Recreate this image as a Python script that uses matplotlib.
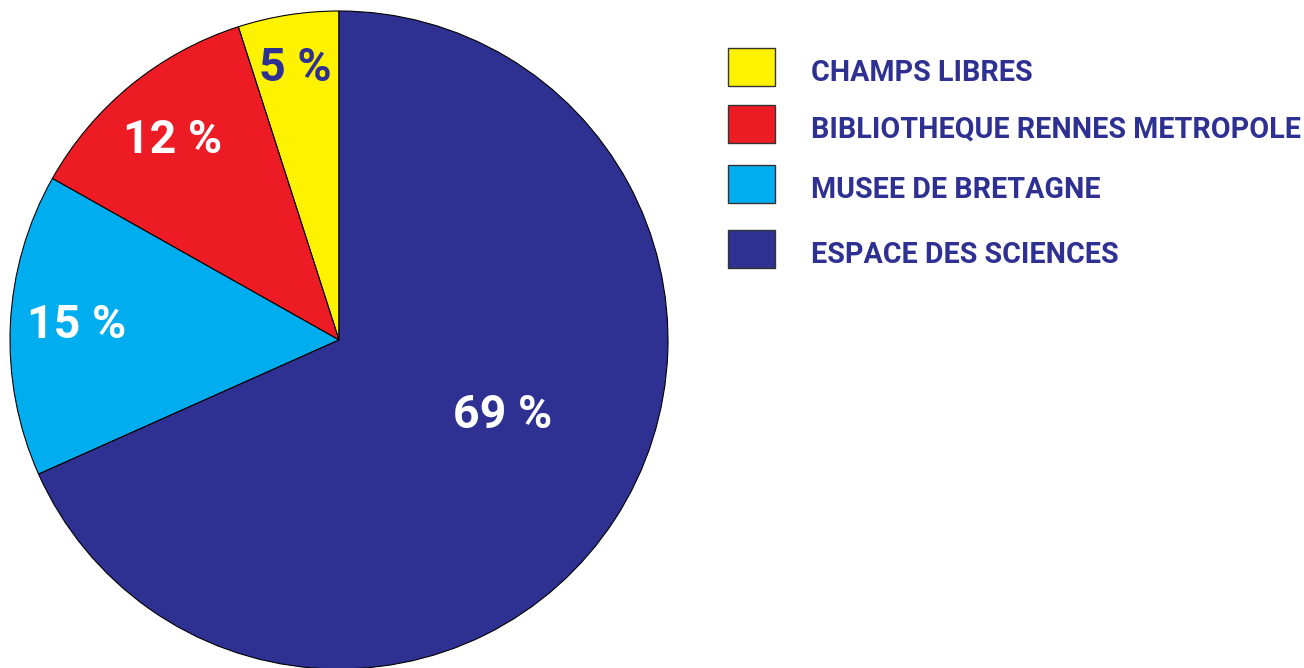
import numpy as np
import matplotlib
matplotlib.use("Agg")
import matplotlib.pyplot as plt
from matplotlib.patches import Rectangle

# Donnees du graphique
categories = ["CHAMPS LIBRES", "BIBLIOTHEQUE RENNES METROPOLE",
              "MUSEE DE BRETAGNE", "ESPACE DES SCIENCES"]
valeurs = [5, 12, 15, 69]
couleurs = ["#FFF200", "#ED1C24", "#00AEEF", "#2E3192"]
couleurs_texte = ["#2E3192", "white", "white", "white"]
dist_etiquettes = [0.85, 0.80, 0.80, 0.543]  # distance relative au rayon
decal_angle = [0, 0, -1.5, 9.6]  # decalage angulaire des etiquettes (deg)

W, H = 1304, 668
fig = plt.figure(figsize=(W / 100, H / 100), dpi=100)
ax = fig.add_axes([0, 0, 1, 1])

cx, cy, r = 339, H - 340, 329
wedges, _ = ax.pie(valeurs, colors=couleurs, startangle=90, counterclock=True,
                   center=(cx, cy), radius=r, frame=True,
                   wedgeprops=dict(edgecolor="black", linewidth=0.8))
ax.set_xlim(0, W)
ax.set_ylim(0, H)
ax.set_aspect("equal")
ax.axis("off")

police = "Roboto"
for w, v, ct, d, da in zip(wedges, valeurs, couleurs_texte, dist_etiquettes, decal_angle):
    ang = np.deg2rad((w.theta1 + w.theta2) / 2 + da)
    ax.text(cx + d * r * np.cos(ang), cy + d * r * np.sin(ang) - 4, f"{v} %",
            color=ct, fontsize=33.5, fontweight="bold", family=police,
            ha="center", va="center")

# Legende
y_lignes = [67, 124, 184, 249]
for cat, col, yl in zip(categories, couleurs, y_lignes):
    y = H - yl
    ax.add_patch(Rectangle((728, y - 19), 47, 38, facecolor=col,
                           edgecolor="#333333", linewidth=1))
    ax.text(811, y - 6, cat, color="#2E3192", fontsize=20.6, fontweight="bold",
            family=police, ha="left", va="center")

fig.savefig("out.png", dpi=100)
